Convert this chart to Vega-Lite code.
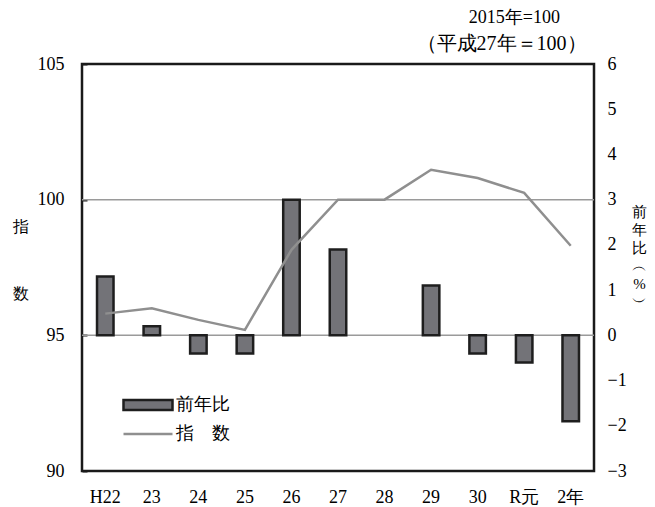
{
  "$schema": "https://vega.github.io/schema/vega-lite/v6.json",
  "width": 512,
  "height": 407,
  "autosize": {"type": "none"},
  "padding": {"left": 82, "top": 64, "right": 61, "bottom": 36},
  "background": "white",
  "config": {
    "font": "Liberation Serif",
    "view": {"stroke": "#1a1a1a", "strokeWidth": 2.5}
  },
  "title": {
    "text": "2015年=100",
    "anchor": "end",
    "frame": "group",
    "font": "Liberation Serif",
    "fontSize": 18,
    "fontWeight": "normal",
    "color": "black",
    "offset": 6,
    "dx": -34
  },
  "data": {
    "values": [
      {"yr": "H22", "yoy": 1.3, "idx": 95.8},
      {"yr": "23", "yoy": 0.2, "idx": 96.0},
      {"yr": "24", "yoy": -0.4, "idx": 95.57},
      {"yr": "25", "yoy": -0.4, "idx": 95.2},
      {"yr": "26", "yoy": 3.0, "idx": 98.15},
      {"yr": "27", "yoy": 1.9, "idx": 100.0},
      {"yr": "28", "yoy": 0.0, "idx": 100.0},
      {"yr": "29", "yoy": 1.1, "idx": 101.1},
      {"yr": "30", "yoy": -0.4, "idx": 100.8},
      {"yr": "R元", "yoy": -0.6, "idx": 100.25},
      {"yr": "2年", "yoy": -1.9, "idx": 98.3}
    ]
  },
  "encoding": {
    "x": {
      "field": "yr",
      "type": "nominal",
      "sort": null,
      "scale": {
        "domain": ["H22", "23", "24", "25", "26", "27", "28", "29", "30", "R元", "2年"],
        "paddingInner": 0,
        "paddingOuter": 0
      },
      "axis": {
        "title": null,
        "domain": false,
        "ticks": false,
        "labelAngle": 0,
        "labelPadding": 17,
        "labelFont": "Liberation Serif",
        "labelFontSize": 18,
        "labelColor": "black"
      }
    }
  },
  "layer": [
    {
      "data": {"values": [{"g": 95}, {"g": 100}]},
      "mark": {"type": "rule", "color": "#9a9a9a", "strokeWidth": 1.5},
      "encoding": {
        "x": null,
        "y": {
          "field": "g",
          "type": "quantitative",
          "scale": {"domain": [90, 105], "nice": false, "zero": false},
          "axis": {
            "orient": "left",
            "values": [90, 95, 100, 105],
            "domain": false,
            "grid": false,
            "ticks": true,
            "tickSize": -5,
            "tickColor": "#1a1a1a",
            "tickWidth": 2,
            "labelPadding": 23,
            "labelFont": "Liberation Serif",
            "labelFontSize": 18,
            "labelColor": "black",
            "title": ["指", "数"],
            "titleFont": "Liberation Serif",
            "titleAngle": 0,
            "titleAlign": "center",
            "titleBaseline": "top",
            "titleX": -62,
            "titleY": 154,
            "titleFontSize": 16,
            "titleFontWeight": "normal",
            "titleLineHeight": 67,
            "titleColor": "black"
          }
        }
      }
    },
    {
      "transform": [{"filter": "datum.yoy != 0"}],
      "mark": {"type": "bar", "size": 16.5, "stroke": "#1e1e1e", "strokeWidth": 2.5},
      "encoding": {
        "y": {
          "field": "yoy",
          "type": "quantitative",
          "scale": {"domain": [-3, 6], "nice": false},
          "axis": {
            "orient": "right",
            "values": [-3, -2, -1, 0, 1, 2, 3, 4, 5, 6],
            "domain": false,
            "grid": false,
            "ticks": false,
            "labelPadding": 13,
            "labelFont": "Liberation Serif",
            "labelFontSize": 18,
            "labelColor": "black",
            "title": ["前", "年", "比", "︵", "%", "︶"],
            "titleFont": "Liberation Serif",
            "titleAngle": 0,
            "titleAlign": "center",
            "titleBaseline": "top",
            "titleX": 45,
            "titleY": 140,
            "titleFontSize": 15,
            "titleFontWeight": "normal",
            "titleLineHeight": 18,
            "titleColor": "black"
          }
        },
        "fill": {
          "datum": "前年比",
          "scale": {"range": ["#737378"]},
          "legend": {
            "title": null,
            "orient": "none",
            "legendX": 40,
            "legendY": 315,
            "padding": 0,
            "symbolType": "M-1,-0.2H1V0.2H-1Z",
            "symbolSize": 2401,
            "symbolStrokeColor": "#1e1e1e",
            "symbolStrokeWidth": 2.5,
            "symbolOpacity": 1,
            "labelFont": "Liberation Serif",
            "labelFontSize": 18,
            "labelColor": "black",
            "labelOffset": 2
          }
        }
      }
    },
    {
      "mark": {"type": "line", "strokeWidth": 2.5},
      "encoding": {
        "y": {
          "field": "idx",
          "type": "quantitative",
          "scale": {"domain": [90, 105], "nice": false, "zero": false},
          "axis": {
            "orient": "right",
            "labels": false,
            "ticks": false,
            "domain": false,
            "grid": false,
            "title": "（平成27年＝100）",
            "titleFont": "Liberation Serif",
            "titleFontSize": 20,
            "titleFontWeight": "normal",
            "titleColor": "black",
            "titleAngle": 0,
            "titleAlign": "right",
            "titleBaseline": "middle",
            "titleX": -8,
            "titleY": -21
          }
        },
        "stroke": {
          "datum": "指　数",
          "scale": {"range": ["#8f8f8f"]},
          "legend": {
            "title": null,
            "orient": "none",
            "legendX": 40,
            "legendY": 344,
            "padding": 0,
            "symbolType": "stroke",
            "symbolSize": 2401,
            "symbolStrokeWidth": 2.5,
            "labelFont": "Liberation Serif",
            "labelFontSize": 18,
            "labelColor": "black",
            "labelOffset": 2
          }
        }
      }
    }
  ],
  "resolve": {"scale": {"y": "independent"}}
}
